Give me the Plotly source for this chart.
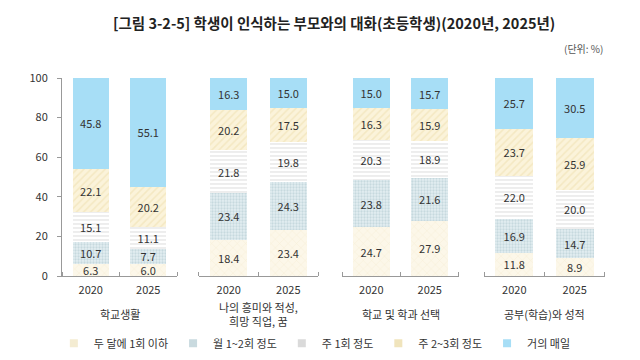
import plotly.graph_objects as go

categories = ["학교생활", "나의 흥미와 적성,<br>희망 직업, 꿈", "학교 및 학과 선택", "공부(학습)와 성적"]
years = ["2020", "2025"]
series_names = ["두 달에 1회 이하", "월 1~2회 정도", "주 1회 정도", "주 2~3회 정도", "거의 매일"]

bimonthly = [[6.3, 6.0], [18.4, 23.4], [24.7, 27.9], [11.8, 8.9]]
monthly = [[10.7, 7.7], [23.4, 24.3], [23.8, 21.6], [16.9, 14.7]]
weekly = [[15.1, 11.1], [21.8, 19.8], [20.3, 18.9], [22.0, 20.0]]
twice_weekly = [[22.1, 20.2], [20.2, 17.5], [16.3, 15.9], [23.7, 25.9]]
daily = [[45.8, 55.1], [16.3, 15.0], [15.0, 15.7], [25.7, 30.5]]

series_values = [bimonthly, monthly, weekly, twice_weekly, daily]

FONT = "Noto Sans CJK KR"
patterns = [
    dict(shape="x", bgcolor="#FCF7E9", fgcolor="#EFE3C0", size=6, solidity=0.15),
    dict(shape=".", bgcolor="#E3EEF1", fgcolor="#A9C3CB", size=3, solidity=0.45),
    dict(shape="-", bgcolor="#FFFFFF", fgcolor="#C4C4C4", size=4, solidity=0.3),
    dict(shape="/", bgcolor="#FBF3DA", fgcolor="#EDDDAA", size=5, solidity=0.3),
    dict(shape="", bgcolor="#A7DEF6", fgcolor="#A7DEF6"),
]
solid = ["#FCF7E9", "#E3EEF1", "#FFFFFF", "#FBF3DA", "#A7DEF6"]
legend_colors = ["#F4ECD2", "#C9DADF", "#DADADA", "#F0E4BC", "#A7DEF6"]

domains = [[0, 0.2118], [0.2523, 0.4715], [0.5157, 0.7311], [0.7772, 1.0]]
xpos = [0.5, 1.5]

fig = go.Figure()
for g in range(4):
    xa = "x" if g == 0 else f"x{g+1}"
    ya = "y" if g == 0 else f"y{g+1}"
    for s in range(5):
        fig.add_trace(go.Bar(
            x=xpos, y=series_values[s][g], name=series_names[s],
            xaxis=xa, yaxis=ya, width=0.63,
            marker=dict(color=solid[s], pattern=patterns[s], line=dict(width=0)),
            texttemplate="%{y:.1f}", textposition="inside",
            insidetextanchor="middle", textangle=0,
            textfont=dict(family=FONT, size=11, color="#333333"),
            showlegend=False, hoverinfo="skip",
        ))

for s in range(5):
    fig.add_trace(go.Scatter(
        x=[None], y=[None], mode="markers", name=series_names[s],
        marker=dict(symbol="square", size=8, color=legend_colors[s]),
        showlegend=True, hoverinfo="skip",
    ))

layout = dict(
    width=640, height=360,
    margin=dict(l=62, r=35, t=78, b=84, autoexpand=False),
    barmode="stack",
    plot_bgcolor="white", paper_bgcolor="white",
    font=dict(family=FONT, size=11, color="#333333"),
    uniformtext=dict(minsize=11, mode="show"),
    showlegend=True,
    legend=dict(orientation="h", x=-0.015, xanchor="left", y=-0.34, yanchor="middle",
                font=dict(family=FONT, size=11, color="#333333"), traceorder="normal",
                itemwidth=30),
)
for g in range(4):
    xk = "xaxis" if g == 0 else f"xaxis{g+1}"
    yk = "yaxis" if g == 0 else f"yaxis{g+1}"
    layout[xk] = dict(
        domain=domains[g], range=[0, 2], anchor="y" if g == 0 else f"y{g+1}",
        tickvals=xpos, ticktext=years, ticks="", showline=True,
        linecolor="#999999", linewidth=1, showgrid=False, zeroline=False,
        ticklabelstandoff=4,
        tickfont=dict(family=FONT, size=11, color="#333333"),
        minor=dict(tickmode="array", tickvals=[0, 1, 2], ticks="inside",
                   ticklen=4, tickcolor="#999999", showgrid=False),
        fixedrange=True,
    )
    if g == 0:
        layout[yk] = dict(range=[0, 100], tickvals=[0, 20, 40, 60, 80, 100],
                          ticks="outside", ticklen=4, tickcolor="#999999",
                          showline=True, linecolor="#999999", showgrid=False,
                          zeroline=False, ticklabelstandoff=7,
                          tickfont=dict(family=FONT, size=11, color="#333333"))
    else:
        layout[yk] = dict(range=[0, 100], anchor=f"x{g+1}", visible=False,
                          showgrid=False, zeroline=False)
fig.update_layout(**layout)

annotations = [
    dict(text="<b>[그림 3-2-5] 학생이 인식하는 부모와의 대화(초등학생)(2020년, 2025년)</b>",
         xref="paper", yref="paper", x=0.5, y=1.0, xanchor="center", yanchor="middle",
         yshift=56, showarrow=False, font=dict(family=FONT, size=14.5, color="#222222")),
    dict(text="(단위: %)", xref="paper", yref="paper", x=1.0, y=1.0, xanchor="right",
         yanchor="middle", yshift=30, showarrow=False,
         font=dict(family=FONT, size=10, color="#555555")),
]
for g in range(4):
    xr = "x domain" if g == 0 else f"x{g+1} domain"
    annotations.append(dict(text=categories[g], xref=xr, yref="paper", x=0.5, y=-0.19,
                            xanchor="center", yanchor="middle", showarrow=False,
                            font=dict(family=FONT, size=11, color="#333333")))
fig.update_layout(annotations=annotations)

fig.write_html("out.html", config={"displayModeBar": False},
               post_script="document.body.style.margin='0';")
